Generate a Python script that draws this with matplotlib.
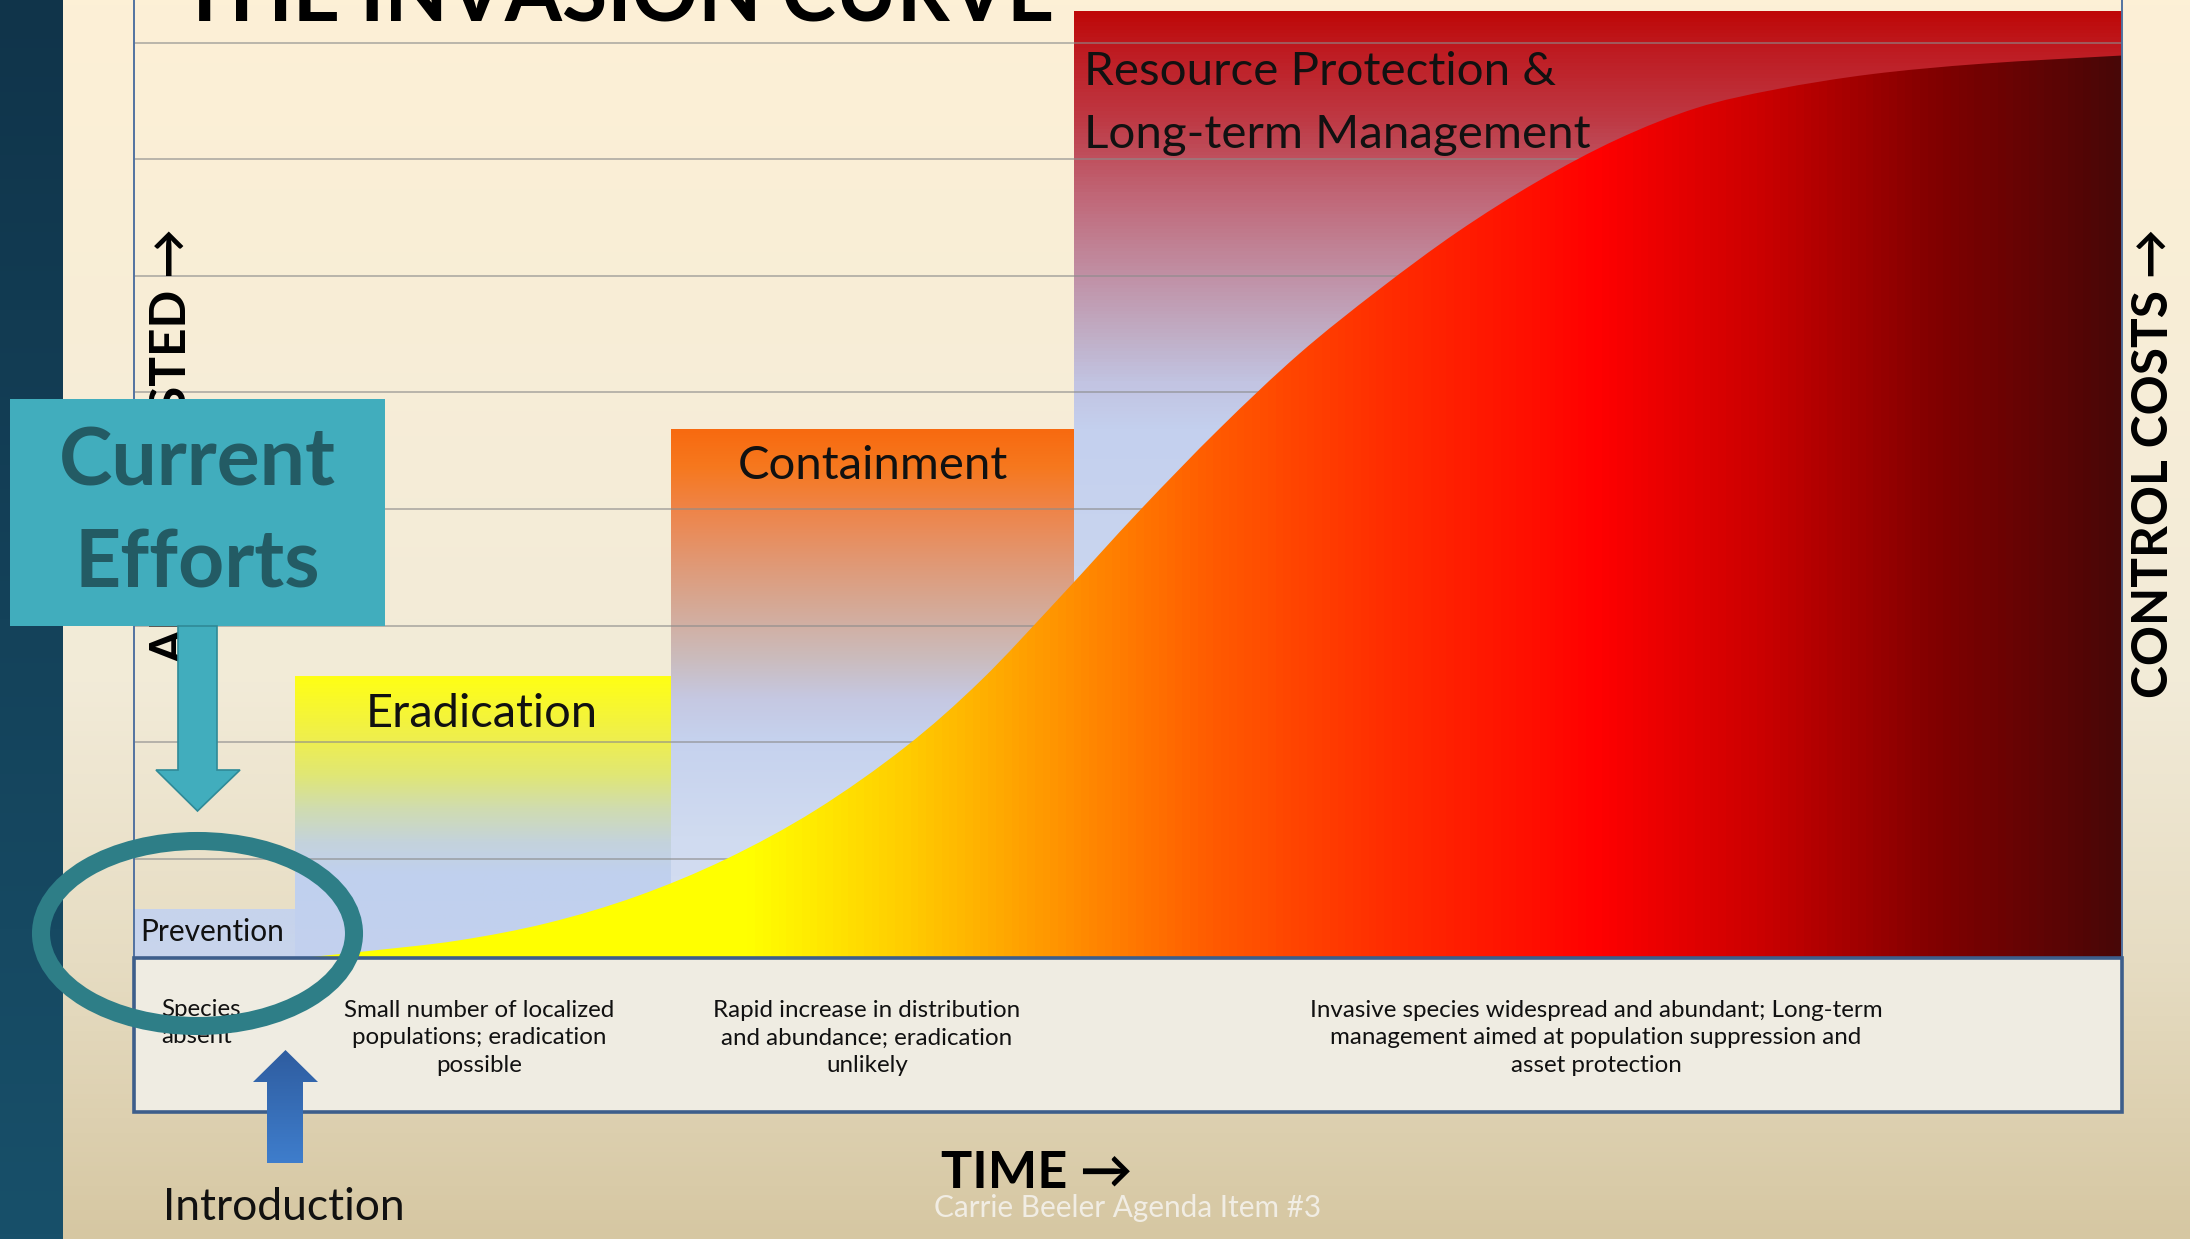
import numpy as np
import matplotlib.pyplot as plt
from matplotlib.colors import LinearSegmentedColormap
from matplotlib.patches import Rectangle, Polygon, Ellipse, PathPatch
from matplotlib.path import Path

plt.rcParams['font.family'] = ['Lato', 'DejaVu Sans']

# ---- data (time 0-100 across the plot, cost in grid units) ----
stage_names = ['Prevention', 'Eradication', 'Containment',
               'Resource Protection &\nLong-term Management']
stage_start = [0.0, 8.1, 27.0, 47.3]
stage_width = [8.1, 18.9, 20.3, 52.7]
stage_height = [0.42, 2.41, 4.53, 8.12]

curve_time = [8.4, 11.8, 16.3, 20.8, 25.3, 29.8, 34.3, 38.8, 42.6, 46.5, 50.6,
              54.6, 58.6, 62.6, 66.6, 70.6, 74.6, 78.6, 82.6, 87.4, 93.0, 100.0]
curve_cost = [0.0, 0.06, 0.15, 0.30, 0.53, 0.85, 1.27, 1.81, 2.38, 3.08, 3.84,
              4.54, 5.18, 5.73, 6.23, 6.66, 7.02, 7.29, 7.45, 7.58, 7.67, 7.74]

grid_levels = [0.85, 1.85, 2.85, 3.85, 4.85, 5.85, 6.85, 7.85]

descriptions = ['Species\nabsent',
                'Small number of localized\npopulations; eradication\npossible',
                'Rapid increase in distribution\nand abundance; eradication\nunlikely',
                'Invasive species widespread and abundant; Long-term\n'
                'management aimed at population suppression and\nasset protection']

W, H = 2190, 1239
fig = plt.figure(figsize=(W / 100, H / 100), dpi=100)
renderer = fig.canvas.get_renderer()

vgrad = np.linspace(0, 1, 256).reshape(-1, 1)
hgrad = np.linspace(0, 1, 512).reshape(1, -1)

# ---- slide background ----
bg = fig.add_axes([0, 0, 1, 1])
bg.axis('off')
slide_cmap = LinearSegmentedColormap.from_list(
    'slide', [(0, '#fdf0d6'), (0.55, '#f2ebd8'), (0.78, '#e6dcc2'), (1, '#d6c7a2')])
bg.imshow(vgrad, extent=[0, W, H, 0], cmap=slide_cmap, aspect='auto')
dark_cmap = LinearSegmentedColormap.from_list('dark', ['#10344a', '#18506a'])
bg.imshow(vgrad, extent=[0, 63, H, 0], cmap=dark_cmap, aspect='auto')
bg.set_xlim(0, W)
bg.set_ylim(H, 0)

# ---- chart area ----
ax = fig.add_axes([134 / W, 1 - 958 / H, (2122 - 134) / W, 958 / H])
ax.axis('off')
ax.set_facecolor('none')

stage_cmaps = [
    LinearSegmentedColormap.from_list('prev', ['#c9d5ec', '#c6d3ec']),
    LinearSegmentedColormap.from_list('erad', [
        (0, '#c3d1ee'), (0.30, '#c0d0ee'), (0.41, '#c4d3dc'), (0.53, '#d0dcb0'),
        (0.65, '#e0e775'), (0.77, '#eeee50'), (1, '#ffff14')]),
    LinearSegmentedColormap.from_list('cont', [
        (0, '#d6def0'), (0.23, '#d0dbf0'), (0.41, '#c6d2ee'), (0.49, '#c5c8e2'),
        (0.57, '#cbbbbb'), (0.68, '#d7a690'), (0.76, '#e29670'), (0.85, '#ef8448'),
        (0.93, '#f6781e'), (1, '#f86a10')]),
    LinearSegmentedColormap.from_list('res', [
        (0, '#d2dcee'), (0.355, '#cbd7ee'), (0.557, '#c4d0ee'), (0.608, '#c2c4e2'),
        (0.658, '#c0aec6'), (0.735, '#c08a9e'), (0.81, '#c06575'), (0.885, '#be3a45'),
        (0.962, '#bf1a20'), (1, '#be0808')]),
]

bars = ax.bar(stage_start, stage_height, width=stage_width, align='edge',
              color='none', linewidth=0, zorder=1)
for bar, cmap in zip(bars, stage_cmaps):
    x0, w, h = bar.get_x(), bar.get_width(), bar.get_height()
    ax.imshow(vgrad, extent=[x0, x0 + w, 0, h], origin='lower', cmap=cmap,
              aspect='auto', zorder=1)

for g in grid_levels:
    ax.axhline(g, color='#8c8c8c', lw=1.1, alpha=0.75, zorder=2)

# smooth outline through the read points (Catmull-Rom as cubic Beziers)
pts = np.column_stack([curve_time, curve_cost])
ext = np.vstack([pts[0], pts, pts[-1]])
verts = [tuple(pts[0])]
codes = [Path.MOVETO]
for i in range(1, len(ext) - 2):
    p0, p1, p2, p3 = ext[i - 1], ext[i], ext[i + 1], ext[i + 2]
    verts += [tuple(p1 + (p2 - p0) / 6), tuple(p2 - (p3 - p1) / 6), tuple(p2)]
    codes += [Path.CURVE4] * 3
verts += [(curve_time[-1], 0), (curve_time[0], 0), (curve_time[0], 0)]
codes += [Path.LINETO, Path.LINETO, Path.CLOSEPOLY]
curve_patch = PathPatch(Path(verts, codes), facecolor='none', edgecolor='none')
ax.add_patch(curve_patch)

curve_cmap = LinearSegmentedColormap.from_list('curve', [
    (0, '#ffff00'), (0.309, '#ffff00'), (0.389, '#ffcc00'), (0.467, '#ff9200'),
    (0.544, '#ff5a00'), (0.628, '#ff2e00'), (0.738, '#ff0000'), (0.818, '#cc0000'),
    (0.902, '#850000'), (1, '#480707')])
im = ax.imshow(hgrad, extent=[0, 100, 0, 8.3], origin='lower', cmap=curve_cmap,
               aspect='auto', zorder=3)
im.set_clip_path(curve_patch)

ax.set_xlim(0, 100)
ax.set_ylim(0, 958 / 116.6)

# ---- overlay (slide annotations, pixel coordinates) ----
ov = fig.add_axes([0, 0, 1, 1])
ov.axis('off')
ov.set_facecolor('none')
ov.set_xlim(0, W)
ov.set_ylim(H, 0)


def fit(text, target, **kw):
    t = ov.text(0, 0, text, fontsize=100, **kw)
    w = t.get_window_extent(renderer).width
    t.remove()
    return 100 * target / w


# plot frame and description strip
ov.plot([134, 134], [0, 958], color='#5272a0', lw=1.4, zorder=1)
ov.plot([2122, 2122], [0, 958], color='#5272a0', lw=1.4, zorder=1)
ov.add_patch(Rectangle((134, 958), 2122 - 134, 1112 - 958, facecolor='#efece2',
                       edgecolor='#3d5e8b', lw=2.6, zorder=1))

desc_size = fit('Small number of localized', 271)
desc_x = [161, 479, 867, 1596]
for i, (txt, x) in enumerate(zip(descriptions, desc_x)):
    if i == 0:
        ov.text(x, 1023, txt, fontsize=desc_size, ha='left', va='center',
                linespacing=1.4, color='#111111', zorder=2)
    else:
        ov.text(x, 1038, txt, fontsize=desc_size, ha='center', va='center',
                linespacing=1.4, color='#111111', zorder=2)

# stage labels
ov.text(140, 932, stage_names[0], fontsize=fit(stage_names[0], 144),
        ha='left', va='center', color='#111111', zorder=2)
ov.text(482, 714, stage_names[1], fontsize=fit(stage_names[1], 232),
        ha='center', va='center', color='#111111', zorder=2)
ov.text(873, 466, stage_names[2], fontsize=fit(stage_names[2], 270),
        ha='center', va='center', color='#111111', zorder=2)
res_size = fit('Long-term Management', 506)
ov.text(1084, 72, 'Resource Protection &', fontsize=res_size,
        ha='left', va='center', color='#111111', zorder=2)
ov.text(1084, 135, 'Long-term Management', fontsize=res_size,
        ha='left', va='center', color='#111111', zorder=2)

# titles and axis labels
ov.text(180, 22, 'THE INVASION CURVE', fontweight='bold', color='black',
        fontsize=fit('THE INVASION CURVE', 874, fontweight='bold'),
        ha='left', va='baseline', zorder=2)
ax_size = fit('CONTROL COSTS \u2192', 470, fontweight='bold')
ov.text(2154, 463, 'CONTROL COSTS \u2192', fontsize=ax_size, fontweight='bold',
        rotation=90, ha='center', va='center', color='black', zorder=2)
ov.text(172, 228, 'AREA INFESTED \u2192', fontsize=ax_size, fontweight='bold',
        rotation=90, ha='center', va='top', color='black', zorder=2)
ov.text(1037, 1173, 'TIME \u2192', fontweight='bold', color='black',
        fontsize=fit('TIME \u2192', 191, fontweight='bold'),
        ha='center', va='center', zorder=2)
ov.text(163, 1208, 'Introduction', fontsize=fit('Introduction', 242),
        ha='left', va='center', color='#111111', zorder=2)
ov.text(1128, 1208, 'Carrie Beeler Agenda Item #3', color='#f1ede4',
        fontsize=fit('Carrie Beeler Agenda Item #3', 387),
        ha='center', va='center', zorder=2)

# "Current Efforts" callout
ov.add_patch(Rectangle((10, 399), 375, 227, facecolor='#41adbd',
                       edgecolor='none', zorder=3))
ce_size = fit('Current', 277, fontweight='bold')
ov.text(197, 462, 'Current', fontsize=ce_size, fontweight='bold',
        color='#235b64', ha='center', va='center', zorder=4)
ov.text(197, 564, 'Efforts', fontsize=ce_size, fontweight='bold',
        color='#235b64', ha='center', va='center', zorder=4)
ov.add_patch(Polygon([(178, 626), (217, 626), (217, 770), (240, 770),
                      (197.5, 811), (156, 770), (178, 770)], closed=True,
                     facecolor='#41adbd', edgecolor='#2f8a97', lw=1.2, zorder=3))

# introduction arrow with blue gradient
up = Polygon([(267, 1163), (303, 1163), (303, 1082), (318, 1082), (285.5, 1050),
              (253, 1082), (267, 1082)], closed=True, facecolor='none',
             edgecolor='none', zorder=3)
ov.add_patch(up)
blue_cmap = LinearSegmentedColormap.from_list('blue', ['#2e5c9f', '#3f7ecd'])
bim = ov.imshow(vgrad, extent=[250, 320, 1165, 1048], cmap=blue_cmap,
                aspect='auto', zorder=3)
bim.set_clip_path(up)

# ring around prevention
ov.add_patch(Ellipse((197.5, 933.5), 313, 185, facecolor='none',
                     edgecolor='#2e7e87', lw=13, zorder=5))

ov.set_xlim(0, W)
ov.set_ylim(H, 0)

fig.savefig('out.png', dpi=100)
